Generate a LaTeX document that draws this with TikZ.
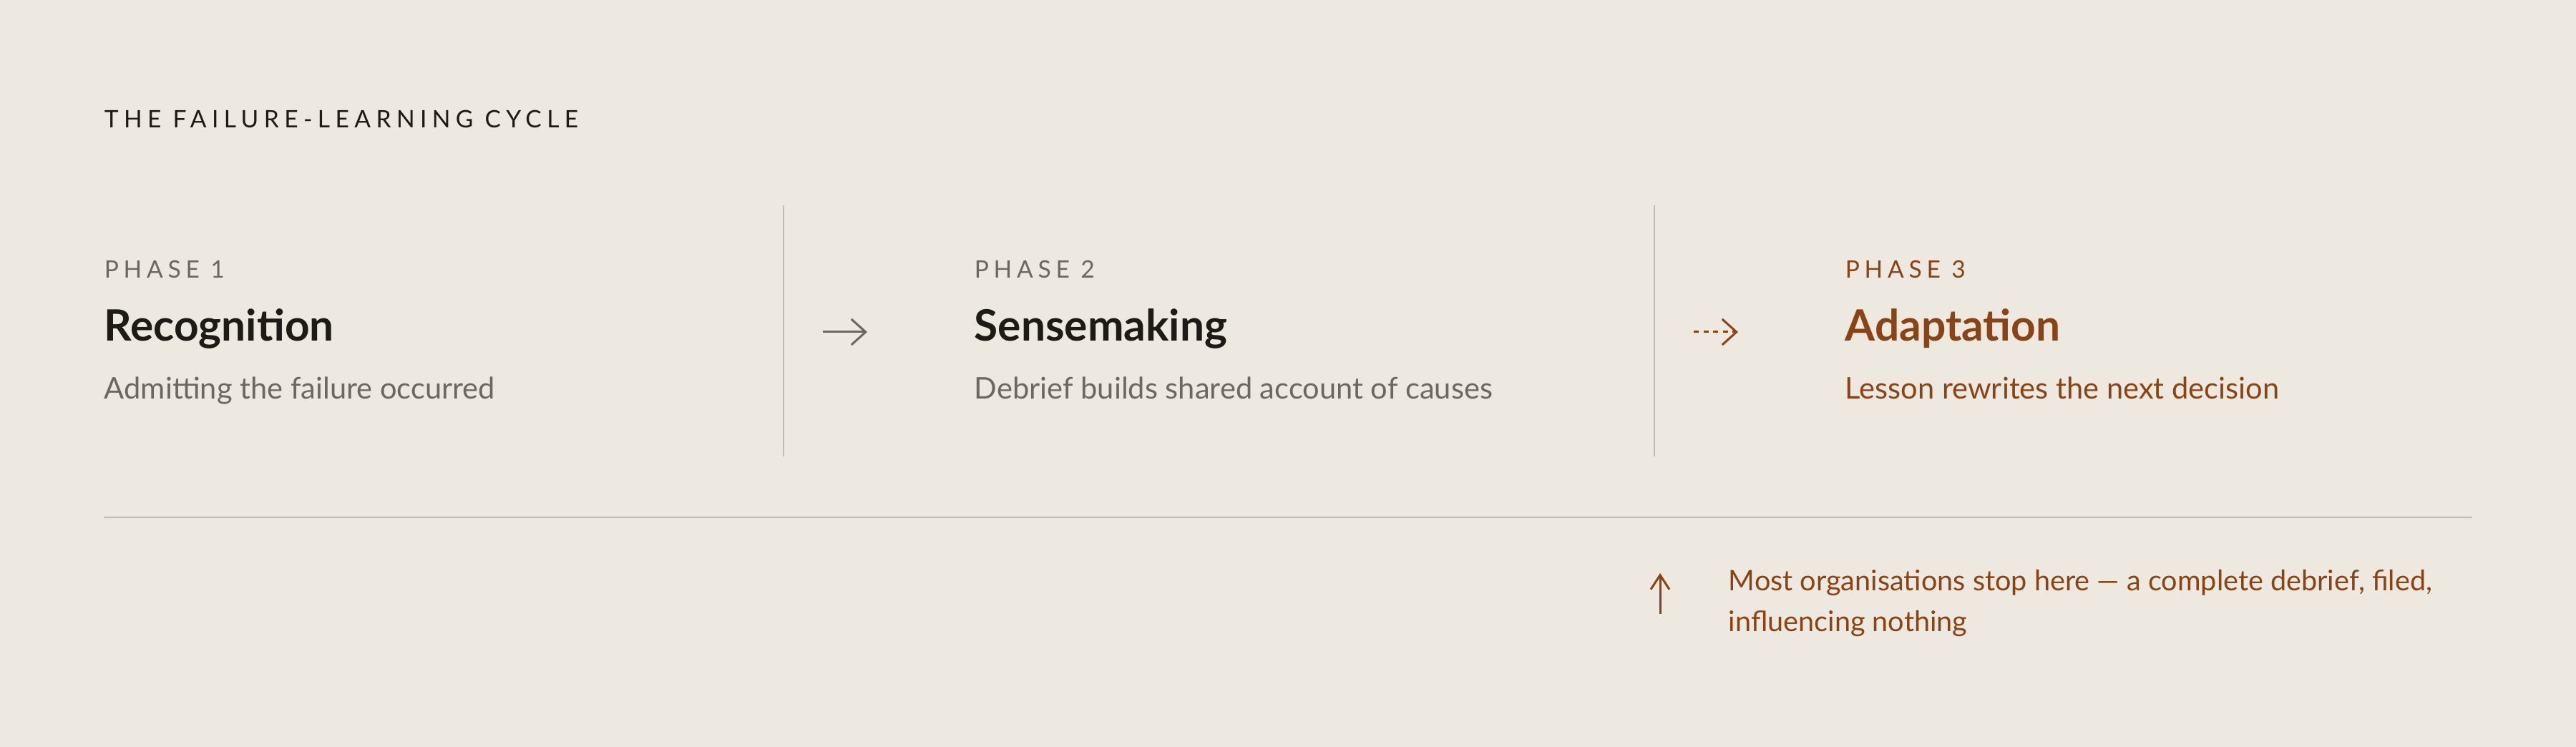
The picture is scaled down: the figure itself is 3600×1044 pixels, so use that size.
\documentclass[tikz,border=0pt]{standalone}
\usepackage{fontspec}
\setmainfont{Lato}
\usepackage{tikz}
\usetikzlibrary{arrows.meta}
\usepackage{xcolor}
\definecolor{paper}{HTML}{EDE8E0}
\definecolor{ink}{HTML}{1E1B17}
\definecolor{stone}{HTML}{6C675F}
\definecolor{rust}{HTML}{8A4413}
\definecolor{rulegray}{HTML}{C3BBAD}

\begin{document}
\begin{tikzpicture}[
                x = 0.25pt, y = -0.25pt,
                every node/.style = {inner sep=0pt, anchor=base west},
                caps/.style = {font=\fontsize{8.4}{10}\selectfont\addfontfeature{LetterSpace=20}},
                phase/.style = {caps, text=stone},
                head/.style = {font=\fontsize{15.1}{18}\selectfont\bfseries, text=ink},
                sub/.style = {font=\fontsize{10.4}{12}\selectfont, text=stone},
                note/.style = {font=\fontsize{9.9}{12}\selectfont, text=rust},
                divider/.style = {draw=rulegray, line width=0.5pt},
                flow/.style = {line width=0.75pt, -{Straight Barb[length=5pt, width=9pt]}}
                    ]
                \fill[paper] (0,0) rectangle (3600,1044);
                \node (title) [caps, text=ink, font=\fontsize{8.4}{10}\selectfont\addfontfeature{LetterSpace=22}] at (145,179) {THE FAILURE-LEARNING CYCLE};
                % phase 1
                \node (p1) [phase] at (145,389) {PHASE 1};
                \node (h1) [head] at (145,477) {Recognition};
                \node (s1) [sub] at (145,558) {Admitting the failure occurred};
                % phase 2
                \node (p2) [phase] at (1361,389) {PHASE 2};
                \node (h2) [head] at (1361,477) {Sensemaking};
                \node (s2) [sub] at (1361,558) {Debrief builds shared account of causes};
                % phase 3
                \node (p3) [phase, text=rust] at (2578,389) {PHASE 3};
                \node (h3) [head, text=rust] at (2578,477) {Adaptation};
                \node (s3) [sub, text=rust] at (2578,558) {Lesson rewrites the next decision};
                % dividers and arrows
                \coordinate (d1t) at (1095,287); \coordinate (d1b) at (1095,638);
                \coordinate (d2t) at (2312,287); \coordinate (d2b) at (2312,638);
                \draw[divider] (d1t) to (d1b);
                \draw[divider] (d2t) to (d2b);
                \coordinate (a1) at (1150,464); \coordinate (b1) at (1212,464);
                \coordinate (a2) at (2367,464); \coordinate (b2) at (2429,464);
                \draw[flow, draw=stone] (a1) to (b1);
                \draw[flow, draw=rust, dash pattern=on 1.8pt off 1.6pt] (a2) to (b2);
                \coordinate (r1) at (145,723); \coordinate (r2) at (3455,723);
                \draw[divider, line width=0.65pt] (r1) to (r2);
                % note under phase 3
                \node (n1) [note] at (2415,826) {Most organisations stop here — a complete debrief, filed,};
                \node (n2) [note] at (2415,883) {influencing nothing};
                \coordinate (u1) at (2320,858); \coordinate (u2) at (2320,801);
                \draw[flow, draw=rust, -{Straight Barb[length=5pt, width=6.5pt]}] (u1) to (u2);
            \end{tikzpicture}
\end{document}
